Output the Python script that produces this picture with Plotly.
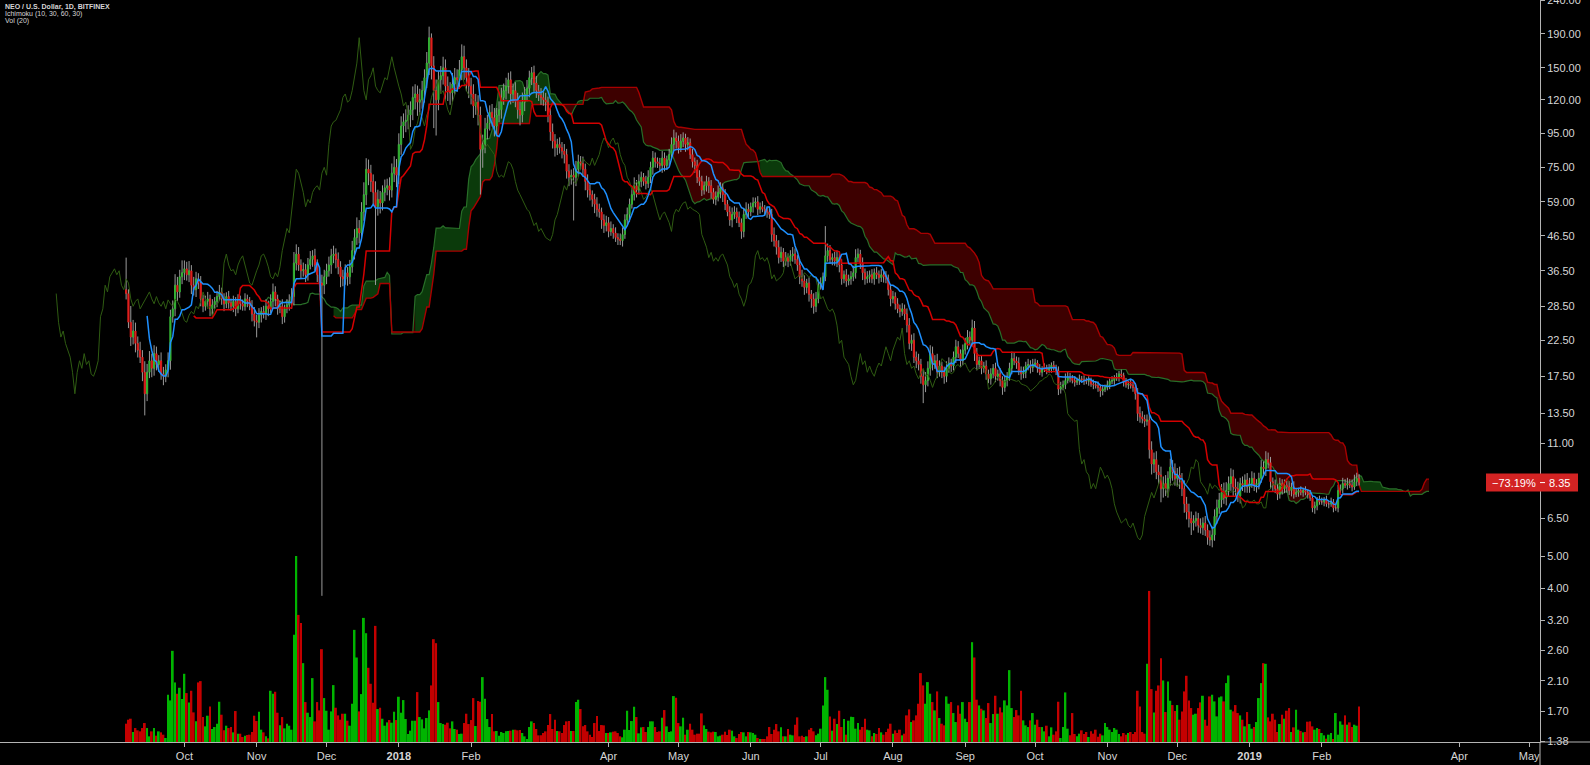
import numpy as np
import pandas as pd
import plotly.graph_objects as go

# ---------------- data (NEO/USD daily, Bitfinex) ----------------
FIRST_DATE = "2017-09-06"
FIRST_OPEN = 32.0

close_2017_09 = [31.14, 25.5, 23.0, 24.0, 22.0, 21.0, 20.0, 18.0, 15.5, 18.0, 19.5, 18.5, 20.5, 19.0, 19.5, 17.8, 17.5, 18.3, 19.5, 26.5, 28.0, 33.0, 31.5, 35.0, 36.0]
close_2017_10 = [37.0, 35.5, 36.5, 33.0, 32.0, 34.5, 33.5, 30.0, 28.5, 29.5, 30.0, 28.0, 28.8, 29.5, 30.5, 31.5, 30.0, 29.0, 30.5, 29.2, 28.5, 29.5, 28.0, 29.8, 29.0, 28.5, 30.0, 29.5, 28.6, 27.0, 25.8]
close_2017_11 = [25.5, 26.8, 27.5, 27.0, 28.5, 28.0, 29.5, 31.5, 30.0, 28.0, 28.5, 26.5, 28.0, 28.8, 29.5, 30.5, 38.5, 41.0, 38.0, 36.5, 36.8, 35.5, 38.0, 39.5, 40.5, 38.0, 35.5, 33.5, 33.0, 35.0]
close_2017_12 = [36.5, 38.0, 40.5, 41.0, 39.5, 37.5, 35.0, 34.5, 36.0, 35.0, 37.5, 42.0, 46.0, 49.0, 47.5, 55.0, 62.0, 74.0, 72.0, 68.0, 63.0, 57.0, 60.0, 58.5, 63.0, 65.0, 66.0, 64.0, 72.0, 75.0, 71.0]
close_2018_01 = [88.0, 100.0, 103.0, 104.0, 108.0, 112.0, 122.0, 125.0, 118.0, 120.0, 128.0, 140.0, 155.0, 185.0, 152.0, 128.0, 120.0, 138.0, 142.0, 150.0, 132.0, 128.0, 126.0, 134.0, 140.0, 138.0, 148.0, 162.0, 150.0, 140.0, 132.0]
close_2018_02 = [125.0, 115.0, 118.0, 108.0, 85.0, 88.0, 98.0, 102.0, 110.0, 106.0, 100.0, 108.0, 112.0, 122.0, 128.0, 132.0, 138.0, 125.0, 128.0, 120.0, 112.0, 108.0, 118.0, 125.0, 130.0, 140.0, 145.0, 135.0]
close_2018_03 = [128.0, 124.0, 122.0, 120.0, 118.0, 108.0, 96.0, 90.0, 86.0, 88.0, 86.0, 84.0, 82.0, 73.0, 70.0, 71.0, 70.0, 74.0, 78.0, 77.0, 74.0, 68.0, 64.0, 62.0, 60.0, 58.0, 56.0, 55.0, 52.0, 50.0, 51.0]
close_2018_04 = [48.0, 49.0, 47.5, 46.0, 45.5, 45.0, 47.0, 52.0, 54.0, 58.0, 62.0, 66.0, 64.0, 68.0, 70.0, 68.0, 67.0, 70.0, 75.0, 80.0, 78.0, 77.0, 76.0, 80.0, 76.0, 79.0, 82.0, 88.0, 92.0, 90.0]
close_2018_05 = [86.0, 90.0, 92.0, 88.0, 89.0, 82.0, 78.0, 76.0, 70.0, 68.0, 64.0, 66.0, 68.0, 66.0, 63.0, 60.0, 61.0, 63.0, 65.0, 62.0, 58.0, 55.0, 52.0, 54.0, 55.0, 53.0, 51.0, 48.0, 54.0, 56.0, 55.0]
close_2018_06 = [57.0, 58.5, 59.0, 56.0, 57.0, 56.0, 55.5, 55.0, 54.0, 47.0, 45.0, 43.0, 40.0, 41.5, 39.0, 40.0, 39.0, 40.5, 41.0, 39.5, 38.0, 35.0, 34.0, 32.5, 33.5, 31.0, 30.0, 28.5, 30.0, 33.0]
close_2018_07 = [33.5, 35.0, 40.5, 42.0, 39.5, 40.0, 39.0, 40.0, 38.0, 34.5, 35.5, 34.0, 34.5, 35.0, 36.0, 40.0, 41.0, 38.5, 36.0, 34.5, 35.0, 35.5, 34.5, 36.0, 35.5, 34.8, 35.5, 35.0, 34.5, 32.0, 30.0]
close_2018_08 = [30.5, 29.0, 28.0, 27.5, 28.0, 27.0, 25.0, 22.0, 22.5, 20.0, 19.5, 19.0, 17.5, 16.5, 17.0, 18.5, 20.5, 19.0, 19.5, 18.0, 18.8, 18.0, 17.5, 18.5, 19.2, 18.8, 20.0, 21.5, 20.5, 19.5, 21.0]
close_2018_09 = [22.0, 23.0, 22.5, 24.5, 20.5, 19.0, 19.5, 18.5, 18.8, 17.8, 17.2, 17.8, 18.5, 17.5, 17.8, 17.0, 16.2, 17.0, 17.5, 18.5, 19.8, 19.5, 19.2, 18.2, 17.8, 18.0, 18.8, 19.0, 18.6, 19.0]
close_2018_10 = [19.2, 18.5, 18.0, 18.4, 18.6, 18.3, 18.5, 18.9, 18.6, 18.2, 16.0, 16.2, 16.5, 17.0, 17.4, 17.3, 17.0, 16.8, 17.0, 17.2, 17.1, 17.0, 16.9, 17.0, 16.6, 16.5, 16.4, 16.2, 15.8, 16.0, 16.2]
close_2018_11 = [16.5, 16.9, 17.0, 17.3, 17.4, 17.8, 17.6, 16.8, 16.5, 16.6, 16.4, 16.2, 15.5, 13.5, 13.2, 13.0, 12.8, 12.9, 10.5, 9.5, 9.8, 9.0, 8.8, 8.0, 8.3, 8.0, 8.6, 9.3, 9.0, 8.6]
close_2018_12 = [8.8, 8.5, 8.0, 7.2, 6.8, 6.5, 6.3, 6.4, 6.5, 6.2, 6.1, 6.3, 6.0, 5.7, 5.6, 5.8, 6.6, 7.0, 7.4, 7.8, 7.5, 7.9, 8.3, 8.7, 8.1, 8.0, 7.6, 8.3, 8.2, 8.5, 8.1]
close_2019_01 = [8.3, 8.6, 8.2, 8.3, 8.6, 9.3, 9.2, 9.8, 9.6, 8.4, 8.2, 8.0, 7.7, 8.3, 8.0, 8.2, 8.1, 7.9, 8.1, 7.7, 7.8, 7.9, 7.8, 7.9, 7.8, 7.7, 7.5, 7.0, 7.1, 7.4, 7.3]
close_2019_02 = [7.3, 7.4, 7.2, 7.2, 7.3, 7.0, 7.0, 7.9, 8.0, 8.3, 8.2, 8.3, 8.2, 8.1, 8.4, 8.6, 8.35]

# upper / lower wick extent beyond the body, in percent
wick_up_2017_09 = [25, 3, 12, 8, 6, 5, 6, 5, 8, 6, 7, 5, 6, 5, 4, 6, 5, 4, 6, 5, 6, 8, 6, 5, 9]
wick_dn_2017_09 = [4, 4, 6, 5, 6, 5, 4, 6, 14, 5, 4, 6, 5, 4, 5, 4, 6, 4, 5, 6, 4, 5, 6, 4, 5]
wick_up_2017_10 = [6, 5, 7, 4, 6, 5, 4, 5, 3, 4, 5, 3, 4, 3, 4, 5, 3, 4, 3, 4, 3, 4, 3, 4, 3, 3, 4, 3, 3, 4, 5]
wick_dn_2017_10 = [5, 4, 5, 6, 4, 5, 4, 5, 4, 3, 4, 5, 4, 3, 4, 3, 4, 5, 3, 4, 3, 4, 5, 3, 4, 3, 3, 4, 3, 5, 4]
wick_up_2017_11 = [4, 5, 3, 4, 5, 4, 5, 6, 4, 3, 4, 5, 3, 4, 5, 6, 8, 7, 5, 4, 5, 4, 5, 6, 4, 5, 4, 5, 6, 5]
wick_dn_2017_11 = [10, 4, 5, 3, 4, 5, 3, 4, 5, 4, 3, 5, 4, 3, 4, 5, 6, 5, 4, 5, 4, 5, 4, 3, 5, 4, 5, 6, 88.5, 6]
wick_up_2017_12 = [5, 6, 5, 6, 4, 5, 4, 5, 6, 4, 5, 7, 6, 8, 6, 7, 9, 8, 7, 6, 5, 8, 7, 6, 5, 6, 5, 6, 7, 8, 6]
wick_dn_2017_12 = [5, 4, 6, 5, 6, 5, 7, 5, 4, 6, 5, 4, 6, 5, 7, 5, 6, 7, 8, 7, 8, 42, 6, 7, 5, 6, 5, 7, 5, 6, 8]
wick_up_2018_01 = [8, 7, 6, 8, 7, 6, 8, 7, 6, 8, 7, 6, 8, 8, 3, 7, 8, 6, 7, 8, 6, 7, 6, 8, 7, 6, 7, 9, 8, 6, 7]
wick_dn_2018_01 = [6, 7, 8, 7, 6, 8, 7, 8, 9, 7, 6, 8, 7, 8, 9, 23, 22, 7, 8, 6, 9, 7, 8, 6, 7, 8, 6, 7, 8, 9, 8]
wick_up_2018_02 = [6, 7, 6, 5, 6, 7, 8, 6, 5, 6, 7, 5, 6, 7, 5, 6, 5, 6, 5, 6, 5, 6, 7, 5, 6, 5, 4, 5]
wick_dn_2018_02 = [7, 8, 6, 7, 27, 12, 6, 7, 5, 6, 7, 6, 5, 6, 5, 6, 5, 7, 6, 5, 6, 7, 5, 6, 5, 6, 5, 6]
wick_up_2018_03 = [5, 4, 5, 4, 5, 4, 5, 6, 5, 4, 5, 4, 5, 4, 5, 4, 5, 6, 5, 4, 5, 4, 5, 4, 3, 4, 5, 4, 3, 4, 5]
wick_dn_2018_03 = [5, 4, 5, 4, 6, 5, 6, 5, 6, 5, 4, 5, 6, 5, 6, 5, 26, 6, 5, 4, 5, 6, 5, 4, 5, 6, 5, 4, 6, 5, 4]
wick_up_2018_04 = [4, 5, 3, 4, 3, 4, 5, 4, 5, 4, 5, 6, 4, 5, 4, 3, 4, 5, 4, 5, 4, 3, 4, 5, 4, 3, 4, 5, 6, 4]
wick_dn_2018_04 = [4, 3, 4, 3, 4, 3, 4, 3, 4, 5, 3, 4, 5, 3, 4, 3, 4, 3, 4, 5, 4, 3, 4, 5, 4, 3, 4, 3, 4, 5]
wick_up_2018_05 = [4, 5, 4, 3, 4, 3, 4, 3, 4, 5, 4, 3, 4, 3, 4, 3, 4, 5, 4, 3, 4, 3, 4, 5, 4, 3, 4, 3, 4, 5, 4]
wick_dn_2018_05 = [4, 3, 4, 5, 4, 3, 4, 5, 4, 3, 4, 3, 4, 5, 4, 3, 4, 3, 4, 5, 4, 3, 4, 5, 3, 4, 3, 5, 4, 3, 4]
wick_up_2018_06 = [3, 4, 3, 4, 3, 4, 3, 2, 3, 4, 5, 4, 5, 4, 3, 4, 3, 4, 5, 4, 3, 4, 5, 4, 3, 4, 3, 4, 5, 4]
wick_dn_2018_06 = [3, 4, 3, 4, 3, 2, 3, 4, 3, 5, 4, 5, 4, 3, 4, 3, 4, 3, 4, 3, 4, 5, 4, 5, 4, 5, 6, 5, 4, 3]
wick_up_2018_07 = [4, 3, 23, 5, 4, 3, 4, 5, 3, 4, 3, 4, 3, 4, 5, 6, 4, 3, 4, 3, 4, 3, 4, 3, 4, 3, 4, 3, 4, 3, 4]
wick_dn_2018_07 = [3, 4, 3, 4, 3, 4, 3, 4, 5, 4, 3, 4, 3, 4, 3, 4, 3, 4, 5, 4, 3, 4, 3, 4, 3, 4, 3, 4, 3, 4, 5]
wick_up_2018_08 = [4, 3, 4, 3, 4, 3, 4, 5, 4, 5, 4, 5, 4, 5, 6, 5, 6, 5, 4, 5, 4, 3, 4, 5, 4, 3, 4, 5, 4, 3, 4]
wick_dn_2018_08 = [3, 4, 3, 4, 3, 4, 5, 4, 5, 4, 5, 4, 5, 12, 5, 4, 5, 4, 3, 4, 3, 4, 5, 4, 3, 4, 3, 4, 3, 4, 3]
wick_up_2018_09 = [4, 5, 4, 6, 5, 4, 3, 4, 3, 4, 3, 4, 3, 4, 3, 4, 3, 4, 3, 4, 5, 4, 3, 4, 3, 4, 3, 4, 3, 4]
wick_dn_2018_09 = [3, 4, 3, 4, 5, 4, 3, 4, 3, 4, 3, 4, 3, 4, 3, 4, 5, 3, 4, 3, 4, 3, 4, 3, 4, 3, 4, 3, 4, 3]
wick_up_2018_10 = [3, 2, 3, 2, 3, 2, 3, 2, 3, 2, 3, 4, 3, 5, 4, 3, 2, 3, 2, 3, 2, 3, 2, 3, 2, 3, 2, 3, 2, 3, 2]
wick_dn_2018_10 = [2, 3, 2, 3, 2, 3, 2, 3, 2, 3, 4, 3, 2, 3, 2, 3, 2, 3, 2, 3, 2, 3, 2, 3, 2, 3, 2, 3, 4, 3, 2]
wick_up_2018_11 = [3, 2, 3, 2, 3, 2, 3, 2, 3, 2, 3, 2, 3, 4, 5, 4, 3, 4, 5, 6, 5, 6, 5, 6, 5, 6, 5, 6, 5, 6]
wick_dn_2018_11 = [2, 3, 2, 3, 2, 3, 2, 3, 2, 3, 2, 3, 4, 5, 4, 3, 4, 3, 6, 7, 6, 5, 6, 9, 6, 5, 6, 5, 6, 5]
wick_up_2018_12 = [5, 6, 5, 6, 5, 6, 5, 4, 5, 4, 5, 4, 5, 4, 5, 6, 5, 6, 5, 6, 7, 6, 5, 6, 5, 6, 5, 4, 5, 4, 5]
wick_dn_2018_12 = [5, 6, 5, 6, 5, 6, 8, 5, 4, 5, 4, 5, 4, 5, 4, 5, 4, 5, 4, 5, 4, 5, 4, 5, 6, 5, 4, 5, 4, 5, 4]
wick_up_2019_01 = [4, 5, 4, 3, 4, 5, 4, 6, 5, 4, 3, 4, 3, 4, 3, 4, 3, 4, 3, 4, 3, 2, 3, 2, 3, 2, 3, 2, 3, 2, 3]
wick_dn_2019_01 = [4, 3, 4, 5, 4, 3, 4, 5, 4, 5, 4, 3, 4, 3, 4, 3, 4, 3, 4, 3, 2, 3, 2, 3, 2, 3, 2, 3, 4, 3, 2]
wick_up_2019_02 = [3, 2, 3, 2, 3, 2, 3, 4, 3, 4, 3, 4, 3, 4, 5, 4, 3]
wick_dn_2019_02 = [2, 3, 2, 3, 2, 3, 2, 3, 2, 3, 2, 3, 2, 3, 2, 3, 2]

# daily volume (relative units)
vol_2017_09 = [55, 67, 70, 30, 42, 35, 32, 42, 57, 42, 17, 32, 42, 19, 32, 29, 22, 12, 142, 125, 274, 179, 145, 163, 129]
vol_2017_10 = [205, 147, 119, 154, 89, 62, 179, 183, 75, 47, 79, 107, 39, 45, 55, 121, 82, 35, 49, 42, 45, 29, 93, 25, 25, 15, 19, 21, 22, 30, 79]
vol_2017_11 = [63, 91, 37, 29, 17, 11, 154, 145, 151, 88, 50, 75, 41, 55, 49, 37, 322, 559, 382, 358, 237, 120, 88, 75, 192, 62, 120, 95, 279, 132]
vol_2017_12 = [94, 37, 92, 171, 103, 80, 67, 85, 85, 64, 49, 115, 337, 254, 92, 144, 373, 327, 223, 175, 118, 349, 99, 103, 70, 49, 59, 66, 58, 91, 66]
vol_2018_01 = [136, 88, 126, 69, 24, 34, 64, 64, 150, 75, 68, 41, 72, 95, 170, 309, 297, 120, 57, 54, 52, 58, 41, 62, 39, 37, 24, 25, 57, 85, 54]
vol_2018_02 = [66, 132, 48, 123, 121, 195, 130, 69, 45, 84, 32, 33, 19, 30, 27, 32, 33, 34, 37, 37, 35, 36, 27, 17, 9, 45, 62, 57]
vol_2018_03 = [39, 20, 20, 27, 32, 51, 84, 39, 67, 33, 32, 27, 51, 62, 63, 33, 33, 120, 127, 99, 47, 51, 32, 22, 15, 57, 78, 33, 51, 50, 27]
vol_2018_04 = [27, 29, 31, 32, 27, 17, 14, 37, 94, 36, 63, 106, 75, 26, 44, 45, 30, 45, 62, 62, 45, 30, 32, 73, 96, 47, 30, 32, 138, 133]
vol_2018_05 = [57, 47, 73, 22, 37, 55, 37, 22, 25, 25, 86, 50, 39, 31, 29, 31, 30, 17, 19, 22, 31, 21, 37, 34, 17, 12, 24, 30, 29, 17, 30]
vol_2018_06 = [29, 27, 22, 12, 9, 9, 9, 17, 45, 24, 37, 54, 32, 44, 17, 17, 39, 22, 20, 52, 74, 17, 19, 15, 17, 37, 42, 32, 20, 25]
vol_2018_07 = [40, 110, 195, 157, 77, 34, 70, 54, 94, 45, 69, 22, 64, 76, 75, 40, 57, 37, 45, 70, 37, 35, 17, 27, 24, 42, 29, 22, 30, 40, 55]
vol_2018_08 = [25, 35, 27, 37, 20, 25, 80, 98, 60, 65, 80, 115, 207, 170, 115, 180, 145, 120, 95, 152, 72, 55, 50, 137, 115, 120, 87, 60, 110, 85, 120]
vol_2018_09 = [70, 60, 120, 300, 254, 127, 110, 100, 95, 72, 117, 57, 84, 139, 85, 104, 89, 125, 110, 216, 102, 75, 96, 80, 154, 65, 50, 45, 65, 87]
vol_2018_10 = [52, 67, 45, 45, 32, 49, 17, 44, 22, 32, 121, 12, 45, 149, 40, 20, 87, 24, 17, 25, 35, 24, 30, 15, 32, 25, 37, 16, 25, 20, 57]
vol_2018_11 = [45, 37, 30, 42, 37, 24, 17, 27, 22, 27, 30, 24, 30, 154, 107, 30, 25, 235, 454, 159, 89, 154, 170, 252, 185, 90, 182, 124, 111, 93]
vol_2018_12 = [111, 67, 92, 152, 199, 125, 102, 82, 85, 102, 119, 139, 67, 49, 137, 142, 122, 77, 134, 137, 122, 177, 200, 97, 92, 111, 87, 80, 67, 47, 90]
vol_2019_01 = [54, 40, 45, 60, 132, 177, 237, 235, 74, 62, 85, 67, 30, 54, 82, 70, 94, 102, 30, 44, 97, 37, 33, 29, 30, 61, 62, 47, 37, 42, 39]
vol_2019_02 = [27, 20, 10, 22, 27, 9, 87, 22, 62, 52, 80, 52, 59, 45, 52, 49, 107]

# axis labels
tick_dates = ["2017-10-01", "2017-11-01", "2017-12-01", "2018-01-01", "2018-02-01", "2018-04-01",
              "2018-05-01", "2018-06-01", "2018-07-01", "2018-08-01", "2018-09-01", "2018-10-01",
              "2018-11-01", "2018-12-01", "2019-01-01", "2019-02-01", "2019-04-01", "2019-05-01"]
tick_labels = ["Oct", "Nov", "Dec", "<b>2018</b>", "Feb", "Apr", "May", "Jun", "Jul", "Aug", "Sep", "Oct",
               "Nov", "Dec", "<b>2019</b>", "Feb", "Apr", "May"]
price_ticks = [240, 190, 150, 120, 95, 75, 59, 46.5, 36.5, 28.5, 22.5, 17.5, 13.5, 11, 6.5, 5, 4, 3.2, 2.6, 2.1, 1.7, 1.38]

# Ichimoku settings (10, 30, 60, 30)
TENKAN, KIJUN, SENKOU_B, SHIFT = 10, 30, 60, 30

# ---------------- assemble ----------------
months = ["2017_09", "2017_10", "2017_11", "2017_12", "2018_01", "2018_02", "2018_03", "2018_04", "2018_05",
          "2018_06", "2018_07", "2018_08", "2018_09", "2018_10", "2018_11", "2018_12", "2019_01", "2019_02"]
g = globals()
close = np.array(sum([g["close_" + m] for m in months], []), dtype=float)
wup = np.array(sum([g["wick_up_" + m] for m in months], []), dtype=float)
wdn = np.array(sum([g["wick_dn_" + m] for m in months], []), dtype=float)
vol = np.array(sum([g["vol_" + m] for m in months], []), dtype=float)
n = len(close)
dates = pd.date_range(FIRST_DATE, periods=n, freq="D")

open_ = np.concatenate([[FIRST_OPEN], close[:-1]])
body_hi = np.maximum(open_, close)
body_lo = np.minimum(open_, close)
high = body_hi * (1 + wup / 100.0)
low = body_lo * (1 - wdn / 100.0)
rising = close >= open_

hs = pd.Series(high, index=dates)
ls = pd.Series(low, index=dates)
tenkan = (hs.rolling(TENKAN).max() + ls.rolling(TENKAN).min()) / 2
kijun = (hs.rolling(KIJUN).max() + ls.rolling(KIJUN).min()) / 2
span_a = (tenkan + kijun) / 2
span_b = (hs.rolling(SENKOU_B).max() + ls.rolling(SENKOU_B).min()) / 2
fwd = dates + pd.Timedelta(days=SHIFT)
back = dates - pd.Timedelta(days=SHIFT)

# ---------------- layout geometry ----------------
W, H = 1590, 765
MR, MB = 50, 23
PW, PH = W - MR, H - MB
YLO, YHI = np.log10(1.3714), np.log10(240.5)
X0, X1 = "2017-07-13 21:10", "2019-05-05 15:07"

C_UP, C_DN = "#35b335", "#e0201e"
V_UP, V_DN = "#00b400", "#c40000"
AXC = "#b4b4b4"
TXT = "#d6d6d6"
FONT = "Liberation Sans, Arial, sans-serif"

fig = go.Figure()

# cloud fills (main axis, bottom-most)
cloud = pd.DataFrame({"a": span_a.values, "b": span_b.values}, index=fwd).dropna()
upc = (cloud["a"] >= cloud["b"]).values
start = 0
for i in range(1, len(cloud) + 1):
    if i == len(cloud) or upc[i] != upc[start]:
        part = cloud.iloc[start:min(i + 1, len(cloud))]
        fig.add_trace(go.Scatter(x=part.index, y=part["b"], mode="lines", line=dict(width=0),
                                 hoverinfo="skip", yaxis="y"))
        fig.add_trace(go.Scatter(x=part.index, y=part["a"], mode="lines", line=dict(width=0),
                                 fill="tonexty",
                                 fillcolor="#0b3a0b" if upc[start] else "#3d0000",
                                 hoverinfo="skip", yaxis="y"))
        start = i

fig.add_trace(go.Scatter(x=fwd, y=span_a, mode="lines", line=dict(color="#286e28", width=1.2),
                         hoverinfo="skip", yaxis="y"))
fig.add_trace(go.Scatter(x=fwd, y=span_b, mode="lines", line=dict(color="#a80000", width=1.4),
                         hoverinfo="skip", yaxis="y"))

# volume (overlay)
fig.add_trace(go.Bar(x=dates, y=vol, marker=dict(color=np.where(rising, V_UP, V_DN), line=dict(width=0)),
                     yaxis="y2", hoverinfo="skip"))

# wicks + candles (overlay)
wx, wy = [], []
for d, h, bh, bl, lo in zip(dates, high, body_hi, body_lo, low):
    wx += [d, d, None, d, d, None]
    wy += [h, bh, None, bl, lo, None]
fig.add_trace(go.Scatter(x=wx, y=wy, mode="lines", line=dict(color="#9a9a9a", width=1),
                         hoverinfo="skip", yaxis="y3", connectgaps=False))
fig.add_trace(go.Candlestick(x=dates, open=open_, high=body_hi, low=body_lo, close=close,
                             increasing=dict(fillcolor=C_UP, line=dict(color=C_UP, width=1)),
                             decreasing=dict(fillcolor=C_DN, line=dict(color=C_DN, width=1)),
                             whiskerwidth=0, yaxis="y3", hoverinfo="skip"))

# lagging / base / conversion lines (top overlay)
fig.add_trace(go.Scatter(x=back, y=close, mode="lines", line=dict(color="#2f5c12", width=1),
                         hoverinfo="skip", yaxis="y4"))
fig.add_trace(go.Scatter(x=dates, y=kijun, mode="lines", line=dict(color="#d40000", width=1.5),
                         hoverinfo="skip", yaxis="y4"))
fig.add_trace(go.Scatter(x=dates, y=tenkan, mode="lines", line=dict(color="#1e90ff", width=1.5),
                         hoverinfo="skip", yaxis="y4"))

ov = dict(overlaying="y", type="log", range=[YLO, YHI], visible=False, fixedrange=True, automargin=False)

# last price label
last = close[-1]
pct = (last / close[0] - 1) * 100
yp = (np.log10(last) - YLO) / (YHI - YLO)
half = 9.0 / PH
shapes = [
    dict(type="rect", xref="paper", yref="paper", x0=1486 / PW, x1=1578 / PW, y0=yp - half, y1=yp + half,
         fillcolor="#d32323", line=dict(width=0), layer="above"),
    dict(type="line", xref="paper", yref="paper", x0=1.0, x1=1545 / PW, y0=yp, y1=yp,
         line=dict(color="#ffffff", width=1), layer="above"),
    dict(type="line", xref="paper", yref="paper", x0=1.0, x1=W / PW, y0=0, y1=0,
         line=dict(color=AXC, width=1), layer="above"),
    dict(type="line", xref="paper", yref="paper", x0=1.0, x1=1.0, y0=-MB / PH, y1=0,
         line=dict(color=AXC, width=1), layer="above"),
]
pct_txt = ("\u2212" if pct < 0 else "+") + f"{abs(pct):.2f}%"
annotations = [
    dict(xref="paper", yref="paper", x=1514 / PW, y=yp, text=pct_txt, showarrow=False,
         font=dict(family=FONT, size=11, color="#ffffff"), xanchor="center", yanchor="middle"),
    dict(xref="paper", yref="paper", x=1559 / PW, y=yp, text=f"{last:.2f}", showarrow=False,
         font=dict(family=FONT, size=11, color="#ffffff"), xanchor="center", yanchor="middle"),
    dict(xref="paper", yref="paper", x=3 / PW, y=1 - 7.3 / PH, text="<b>NEO / U.S. Dollar, 1D, BITFINEX</b>",
         showarrow=False, font=dict(family=FONT, size=7, color=TXT), xanchor="left", yanchor="middle"),
    dict(xref="paper", yref="paper", x=3 / PW, y=1 - 14.0 / PH, text="Ichimoku (10, 30, 60, 30)",
         showarrow=False, font=dict(family=FONT, size=7, color=TXT), xanchor="left", yanchor="middle"),
    dict(xref="paper", yref="paper", x=3 / PW, y=1 - 20.7 / PH, text="Vol (20)",
         showarrow=False, font=dict(family=FONT, size=7, color=TXT), xanchor="left", yanchor="middle"),
]

fig.update_layout(
    width=W, height=H, autosize=False,
    margin=dict(l=0, r=MR, t=0, b=MB, pad=0, autoexpand=False),
    paper_bgcolor="#000000", plot_bgcolor="#000000",
    showlegend=False, hovermode=False, bargap=0.2,
    font=dict(family=FONT, size=11, color=TXT),
    xaxis=dict(type="date", range=[X0, X1], tickmode="array", tickvals=tick_dates, ticktext=tick_labels,
               showgrid=False, zeroline=False, showline=True, linecolor=AXC, linewidth=1,
               ticks="outside", ticklen=4, tickcolor=AXC, automargin=False,
               tickfont=dict(family=FONT, size=11, color=TXT),
               rangeslider=dict(visible=False), fixedrange=True),
    yaxis=dict(type="log", range=[YLO, YHI], side="right", tickmode="array", tickvals=price_ticks,
               ticktext=[f"{v:.2f}" for v in price_ticks], showgrid=False, zeroline=False,
               showline=True, linecolor=AXC, linewidth=1, ticks="outside", ticklen=4, tickcolor=AXC,
               ticklabeloverflow="allow", automargin=False,
               tickfont=dict(family=FONT, size=11, color=TXT), fixedrange=True),
    yaxis2=dict(overlaying="y", range=[0, 2230], visible=False, fixedrange=True, automargin=False),
    yaxis3=ov,
    yaxis4=dict(ov),
    shapes=shapes,
    annotations=annotations,
)

fig.write_html("out.html", config={"displayModeBar": False},
               post_script="document.body.style.margin='0';document.body.style.overflow='hidden';")
